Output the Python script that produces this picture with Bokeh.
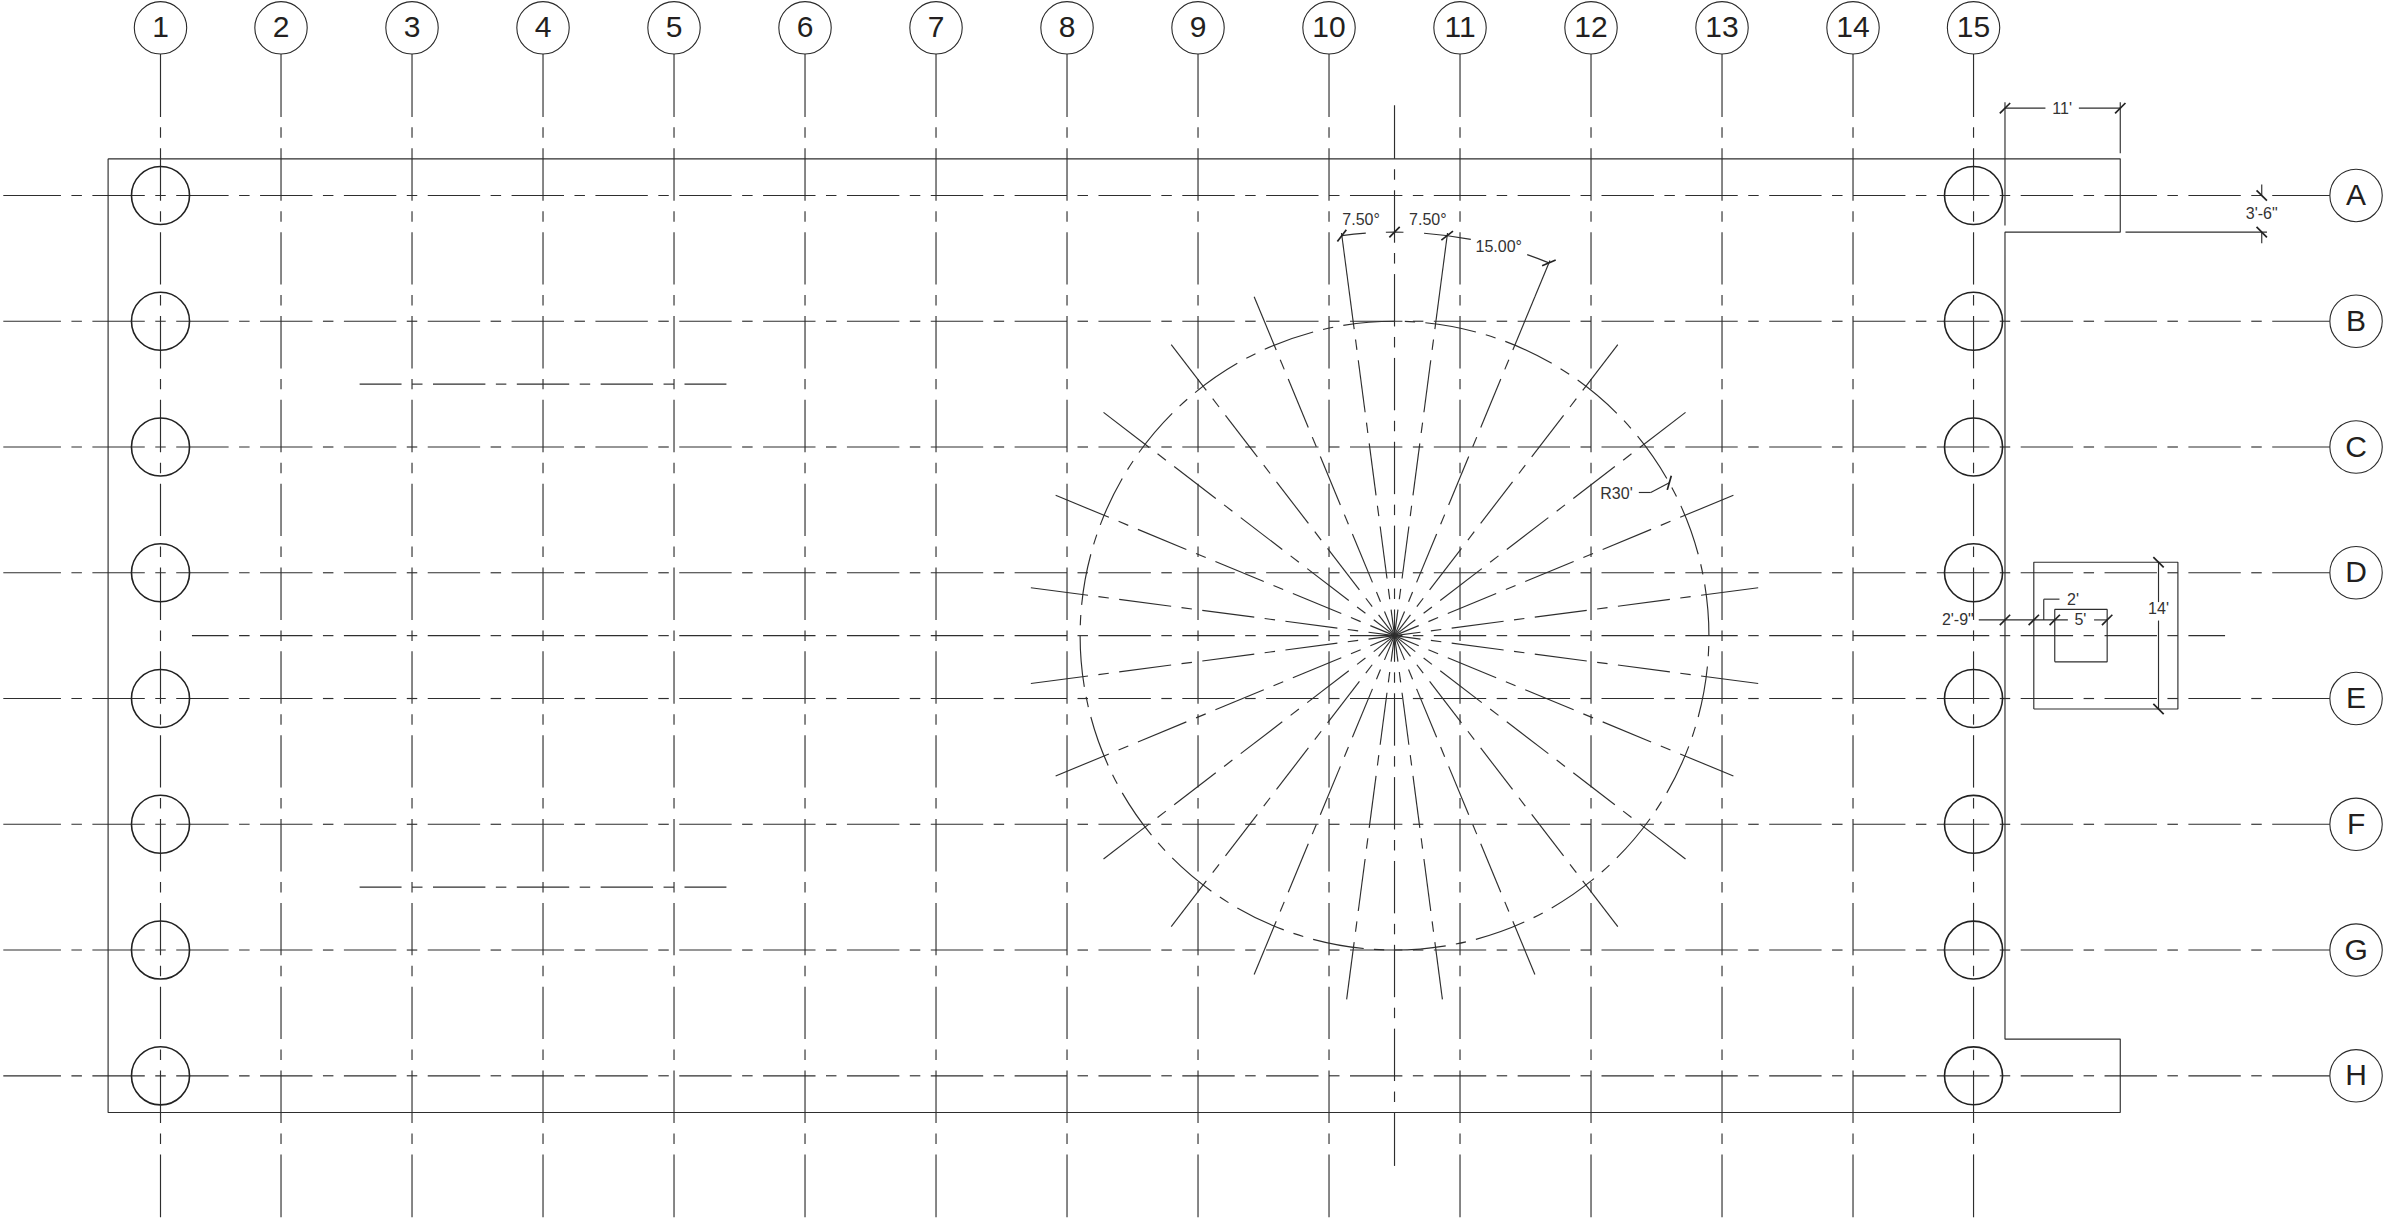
import math
from bokeh.plotting import figure
from bokeh.models import Range1d
from bokeh.core.properties import value
from bokeh.embed import file_html
from bokeh.resources import INLINE

# ---- drawing data, in feet (column 1 = x 0, row H = y 0) ----
col_labels = [str(i) for i in range(1, 16)]
col_spacing = [11.5] + [12.5] * 12 + [11.5]
row_labels = list("ABCDEFGH")
row_y = [84, 72, 60, 48, 36, 24, 12, 0]
column_x = [0.0]
for s in col_spacing:
    column_x.append(column_x[-1] + s)

dash_long, dash_short, dash_gap = 5.0, 1.0, 1.0
bubble_r = 2.5
col_bubble_y = 100.0
row_bubble_x = 209.5
col_line_y = (97.5, -13.5)
row_line_x = (-15.0, 207.0)
pier_r = 2.77
pier_cols = [0, 14]

outline_x = [-5, 187, 187, 176, 176, 187, 187, -5, -5]
outline_y = [87.5, 87.5, 80.5, 80.5, 3.5, 3.5, -3.5, -3.5, 87.5]

wheel_x, wheel_y = 117.75, 42.0
wheel_r = 30.0
spoke_angles = [7.5 + 15 * i for i in range(24)]
spoke_len = 35.0
dim_r = 38.5
spoke_ext = 38.75
axis_half_v = 50.6
mid_row = (3.0, 197.0, -6.5)           # x0, x1, phase of a long dash
short_rows_y = [66.0, 18.0]
short_rows_x = (19.0, 54.0, 26.0)

rect_big = (178.75, 192.5, 35.0, 49.0)
rect_small = (180.75, 185.75, 39.5, 44.5)

S = 10.48  # px per foot
W, H = 2383, 1219
X0, Y0 = 160.0, 1075.3
INK = "#2e2e2e"
LW = 1.15

p = figure(width=W, height=H, output_backend="svg", toolbar_location=None,
           x_range=Range1d(-X0 / S, (W - X0) / S), y_range=Range1d((Y0 - H) / S, Y0 / S),
           x_axis_type=None, y_axis_type=None, min_border=0,
           outline_line_color=None, background_fill_color="white", border_fill_color="white")
p.grid.visible = False
p.styles = {"position": "absolute", "left": "0px", "top": "0px"}


def fit_dashes(length, scale=1.0):
    """long dashes stretched at both ends so that the pattern fits the length"""
    lo, sh, g = dash_long * scale, dash_short * scale, dash_gap * scale
    per = lo + sh + 2 * g
    n = math.floor((length - lo) / per)
    e = (length - lo - n * per) / 2
    out = []
    pos = 0.0
    for k in range(n + 1):
        a = pos
        b = pos + lo + (e if k == 0 else 0) + (e if k == n else 0)
        out.append((a, b))
        if k < n:
            out.append((b + g, b + g + sh))
            pos = b + 2 * g + sh
    return out


def phase_dashes(a, b, phase, scale=1.0):
    """pattern anchored at a long dash start; truncated at a and b"""
    lo, sh, g = dash_long * scale, dash_short * scale, dash_gap * scale
    per = lo + sh + 2 * g
    k = math.floor((a - phase) / per) - 1
    out = []
    while phase + k * per < b:
        st = phase + k * per
        for u, v in ((st, st + lo), (st + lo + g, st + lo + g + sh)):
            u2, v2 = max(u, a), min(v, b)
            if v2 > u2:
                out.append((u2, v2))
        k += 1
    return out


sx0, sy0, sx1, sy1 = [], [], [], []


def seg(x0, y0, x1, y1):
    sx0.append(x0); sy0.append(y0); sx1.append(x1); sy1.append(y1)


# grid lines
for x in column_x:
    top, bot = col_line_y
    for a, b in fit_dashes(top - bot):
        seg(x, top - a, x, top - b)
for y in row_y:
    for a, b in fit_dashes(row_line_x[1] - row_line_x[0]):
        seg(row_line_x[0] + a, y, row_line_x[0] + b, y)
# centre axes of the wheel
for a, b in fit_dashes(2 * axis_half_v):
    seg(wheel_x, wheel_y + axis_half_v - a, wheel_x, wheel_y + axis_half_v - b)
for a, b in phase_dashes(mid_row[0], mid_row[1], mid_row[2]):
    seg(a, wheel_y, b, wheel_y)
# the two short lines
for y in short_rows_y:
    x0, x1, ph = short_rows_x
    for a, b in phase_dashes(x0, x1, ph):
        seg(a, y, b, y)
# spokes: dash pattern centred on the hub
for ang in spoke_angles:
    c, s = math.cos(math.radians(ang)), math.sin(math.radians(ang))
    for a, b in fit_dashes(2 * spoke_len):
        u, v = a - spoke_len, b - spoke_len
        if v <= 0:
            continue
        seg(wheel_x + max(u, 0) * c, wheel_y + max(u, 0) * s, wheel_x + v * c, wheel_y + v * s)
# top three spokes reach the angular dimension
for ang in (97.5, 82.5, 67.5):
    c, s = math.cos(math.radians(ang)), math.sin(math.radians(ang))
    seg(wheel_x + spoke_len * c, wheel_y + spoke_len * s, wheel_x + spoke_ext * c, wheel_y + spoke_ext * s)

# dimension lines
seg(176, 92.33, 179.86, 92.33); seg(183.05, 92.33, 187, 92.33)
seg(176, 92.9, 176, 81.13); seg(187, 92.9, 187, 88.03)
seg(200.5, 84, 200.5, 85.05); seg(200.5, 80.5, 200.5, 79.45)
seg(187.5, 80.5, 201.0, 80.5)
seg(173.5, 43.5, 182.0, 43.5); seg(184.5, 43.5, 185.75, 43.5)
seg(179.7, 43.5, 179.7, 45.48); seg(179.7, 45.48, 181.2, 45.48)
seg(190.65, 49, 190.65, 45.2); seg(190.65, 43.44, 190.65, 35)
r30_ang = 29.08
rc, rs = math.cos(math.radians(r30_ang)), math.sin(math.radians(r30_ang))
seg(141.06, 55.66, 142.2, 55.66)
seg(142.2, 55.66, wheel_x + wheel_r * rc, wheel_y + wheel_r * rs)

p.segment(sx0, sy0, sx1, sy1, line_color=INK, line_width=LW)

# outline, rectangles
p.line(outline_x, outline_y, line_color=INK, line_width=LW)
for r in (rect_big, rect_small):
    p.line([r[0], r[1], r[1], r[0], r[0]], [r[2], r[2], r[3], r[3], r[2]], line_color=INK, line_width=LW)

# wheel circle, dashed from the top going counter-clockwise
circ = 2 * math.pi * wheel_r
scale = circ / (24 * 8.0)
a0, a1 = [], []
per = 8.0 * scale
for k in range(24):
    st = k * per
    for u, v in ((st, st + 5 * scale), (st + 6 * scale, st + 7 * scale)):
        a0.append(math.pi / 2 + u / wheel_r)
        a1.append(math.pi / 2 + v / wheel_r)
p.arc([wheel_x] * len(a0), [wheel_y] * len(a0), radius=wheel_r, start_angle=a0, end_angle=a1,
      line_color=INK, line_width=LW)

# angular dimension arcs (degrees clockwise from up)
dim_arcs = [(-7.5, -4.08), (-1.23, 1.27), (4.2, 10.9), (19.2, 22.5)]
p.arc([wheel_x] * 4, [wheel_y] * 4, radius=dim_r,
      start_angle=[math.radians(90 - b) for a, b in dim_arcs],
      end_angle=[math.radians(90 - a) for a, b in dim_arcs],
      line_color=INK, line_width=LW)

# ticks
tx0, ty0, tx1, ty1 = [], [], [], []
T = 0.7


def tick(x, y, deg):
    c, s = math.cos(math.radians(deg)), math.sin(math.radians(deg))
    tx0.append(x - T * c); ty0.append(y - T * s); tx1.append(x + T * c); ty1.append(y + T * s)


for x, y, d in [(176, 92.33, 45), (187, 92.33, 45), (200.5, 84, 135), (200.5, 80.5, 135),
                (176, 43.5, 45), (178.75, 43.5, 45), (180.75, 43.5, 45), (185.75, 43.5, 45),
                (190.65, 49, 135), (190.65, 35, 135)]:
    tick(x, y, d)
for th in (-7.5, 0, 7.5, 22.5):
    tick(wheel_x + dim_r * math.sin(math.radians(th)), wheel_y + dim_r * math.cos(math.radians(th)), 45 - th)
tick(wheel_x + wheel_r * rc, wheel_y + wheel_r * rs, r30_ang + 45)
p.segment(tx0, ty0, tx1, ty1, line_color="#222222", line_width=1.7)

# piers and bubbles
px_, py_ = [], []
for i in pier_cols:
    for y in row_y:
        px_.append(column_x[i]); py_.append(y)
p.circle(px_, py_, radius=pier_r, fill_color=None, line_color="#222222", line_width=1.6)
p.circle(column_x, [col_bubble_y] * 15, radius=bubble_r, fill_color="white", line_color="#2a2a2a", line_width=1.1)
p.circle([row_bubble_x] * 8, row_y, radius=bubble_r, fill_color="white", line_color="#2a2a2a", line_width=1.1)

FONT = value("Liberation Sans")
p.text(column_x, [col_bubble_y] * 15, text=col_labels, text_font=FONT, text_font_size="30px",
       text_align="center", text_baseline="middle", text_color="#231f20", y_offset=-1)
p.text([row_bubble_x] * 8, row_y, text=row_labels, text_font=FONT, text_font_size="30px",
       text_align="center", text_baseline="middle", text_color="#231f20", y_offset=-1)

dim_text = ["11'", "3'-6\"", "7.50°", "7.50°", "15.00°", "R30'", "2'-9\"", "2'", "5'", "14'"]
dim_tx = [181.46, 200.5, 114.56, 120.93, 127.7, 138.93, 171.5, 182.5, 183.2, 190.65]
dim_ty = [92.33, 82.25, 81.67, 81.67, 79.16, 55.6, 43.5, 45.48, 43.5, 44.6]
p.text(dim_tx, dim_ty, text=dim_text, text_font=FONT, text_font_size="16px",
       text_align="center", text_baseline="middle", text_color="#333333")

open("out.html", "w").write(file_html(p, INLINE))
